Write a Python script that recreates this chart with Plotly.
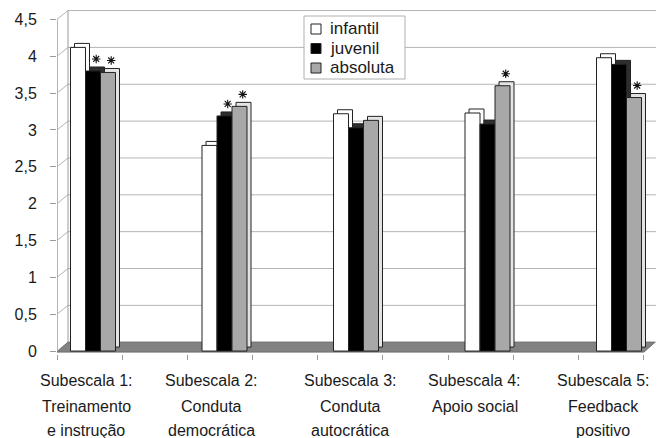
import plotly.graph_objects as go

# ---------------- data ----------------
label_lines = [
    ["Subescala 1:", "Treinamento", "e instrução"],
    ["Subescala 2:", "Conduta", "democrática"],
    ["Subescala 3:", "Conduta", "autocrática"],
    ["Subescala 4:", "Apoio social"],
    ["Subescala 5:", "Feedback", "positivo"],
]
series_names = ["infantil", "juvenil", "absoluta"]
infantil = [4.12, 2.79, 3.22, 3.23, 3.98]
juvenil = [3.80, 3.19, 3.03, 3.08, 3.89]
absoluta = [3.78, 3.32, 3.13, 3.60, 3.44]
sig_juvenil = [1, 1, 0, 0, 0]
sig_absoluta = [1, 1, 0, 1, 1]
y_ticks = [0, 0.5, 1, 1.5, 2, 2.5, 3, 3.5, 4, 4.5]
y_tick_text = ["0", "0,5", "1", "1,5", "2", "2,5", "3", "3,5", "4", "4,5"]

# ---------------- geometry / style ----------------
W, H = 659, 438
ML, MR, MT, MB = 57, 3, 10, 84
PW = W - ML - MR
PH = H - MT - MB
PXX = 131.5           # px per category
X_MIN = -36 / PXX
X_MAX = X_MIN + PW / PXX
Y_MIN = -0.04
PXY = 73.7
Y_MAX = Y_MIN + PH / PXY

BW = 15 / PXX          # bar width
DX = 4 / PXX           # depth shift
DY = 4 / PXY
WALL_DX = 11 / PXX     # back wall shift
WALL_DY = 0.12

front_colors = ["#ffffff", "#000000", "#a8a8a8"]
depth_colors = ["#ffffff", "#2e2e2e", "#e4e4e4"]
edge = "#222222"
font_fam = "Liberation Sans, Arial, sans-serif"


def px_x(p):
    return (p - ML) / PW


def px_y(p):
    return (H - MB - p) / PH


xs = list(range(len(label_lines)))
series = [infantil, juvenil, absoluta]

fig = go.Figure()

for i, (name, vals) in enumerate(zip(series_names, series)):
    off = -1.5 * BW + i * BW
    # depth (top + side faces)
    fig.add_trace(go.Bar(
        x=xs, y=vals, base=[DY] * len(vals), width=BW, offset=off + DX,
        marker=dict(color=depth_colors[i], line=dict(color=edge, width=1)),
        showlegend=False, hoverinfo="skip"))
    # front face
    fig.add_trace(go.Bar(
        x=xs, y=vals, width=BW, offset=off, name=name,
        marker=dict(color=front_colors[i], line=dict(color=edge, width=1)),
        showlegend=False, hoverinfo="skip"))

# significance asterisks
for i, (vals, sig) in enumerate([(juvenil, sig_juvenil), (absoluta, sig_absoluta)], start=1):
    off = -1.5 * BW + i * BW + BW / 2 + DX * 0.8
    sx = [x + off for x, s in zip(xs, sig) if s]
    sy = [v + 12 / PXY for v, s in zip(vals, sig) if s]
    fig.add_trace(go.Scatter(
        x=sx, y=sy, mode="markers", showlegend=False, hoverinfo="skip",
        marker=dict(symbol="asterisk-open", size=7, color="#111111",
                    line=dict(color="#111111", width=1.1))))

shapes = []
wall_left = X_MIN + WALL_DX
# back wall gridlines
for v in y_ticks:
    shapes.append(dict(type="line", xref="x", yref="y", layer="below",
                       x0=wall_left, x1=X_MAX, y0=v + WALL_DY, y1=v + WALL_DY,
                       line=dict(color="#b4b4b4", width=1)))
    # connector from front tick to back wall
    shapes.append(dict(type="line", xref="x", yref="y", layer="below",
                       x0=X_MIN, x1=wall_left, y0=v, y1=v + WALL_DY,
                       line=dict(color="#b4b4b4", width=1)))
# back wall left edge
shapes.append(dict(type="line", xref="x", yref="y", layer="below",
                   x0=wall_left, x1=wall_left, y0=WALL_DY, y1=y_ticks[-1] + WALL_DY,
                   line=dict(color="#9a9a9a", width=1)))
# front y axis line
shapes.append(dict(type="line", xref="x", yref="y", layer="below",
                   x0=X_MIN + 0.5 / PXX, x1=X_MIN + 0.5 / PXX, y0=-0.014, y1=y_ticks[-1],
                   line=dict(color="#b4b4b4", width=1)))
# floor
fx0, fx1 = X_MIN, (644 - 93) / PXX
fy0 = -0.014
shapes.append(dict(type="path", xref="x", yref="y", layer="below",
                   path=f"M {fx0},{fy0} L {fx1},{fy0} L {fx1 + WALL_DX},{WALL_DY} L {fx0 + WALL_DX},{WALL_DY} Z",
                   fillcolor="#828282", line=dict(color="#6e6e6e", width=1)))

annotations = []

# legend (box, swatches, labels)
shapes.append(dict(type="rect", xref="paper", yref="paper", layer="above",
                   x0=px_x(304), x1=px_x(405), y0=px_y(79), y1=px_y(16),
                   fillcolor="white", line=dict(color="#b0b0b0", width=1)))
for k, name in enumerate(series_names):
    cy = 29 + k * 19.5
    shapes.append(dict(type="rect", xref="paper", yref="paper", layer="above",
                       x0=px_x(311), x1=px_x(321), y0=px_y(cy + 5), y1=px_y(cy - 5),
                       fillcolor=front_colors[k], line=dict(color=edge, width=1)))
    annotations.append(dict(x=px_x(328), y=px_y(cy), xref="paper", yref="paper",
                            text=name, showarrow=False, xanchor="left", yanchor="middle",
                            font=dict(family=font_fam, size=17, color="#1a1a1a")))

# category labels
line_shift = [-26, -52, -76]
label_xshift = [-7, -13, -6, -13, -16]
for x, lines, xsft in zip(xs, label_lines, label_xshift):
    for j, t in enumerate(lines):
        annotations.append(dict(
            x=x, y=0, xref="x", yref="paper", text=t, showarrow=False,
            xanchor="center", yanchor="middle", xshift=xsft, yshift=line_shift[j],
            font=dict(family=font_fam, size=16, color="#1a1a1a")))

x_tick_pos = [X_MIN + 0.4958 * k for k in range(10)]

fig.update_layout(
    width=W, height=H,
    margin=dict(l=ML, r=MR, t=MT, b=MB, pad=0, autoexpand=False),
    paper_bgcolor="white", plot_bgcolor="white",
    barmode="overlay", showlegend=False,
    shapes=shapes, annotations=annotations,
    font=dict(family=font_fam, size=16, color="#1a1a1a"),
    xaxis=dict(range=[X_MIN, X_MAX], showgrid=False, zeroline=False, showline=False,
               automargin=False,
               tickmode="array", tickvals=x_tick_pos, showticklabels=False,
               ticks="outside", ticklen=5, tickcolor="#9a9a9a"),
    yaxis=dict(range=[Y_MIN, Y_MAX], showgrid=False, zeroline=False, showline=False,
               automargin=False,
               tickmode="array", tickvals=y_ticks, ticktext=y_tick_text,
               ticks="outside", ticklen=6, tickcolor="#9a9a9a", ticklabelstandoff=10,
               tickfont=dict(family=font_fam, size=16, color="#1a1a1a")),
)

fig.write_html("out.html", config={"displayModeBar": False},
               post_script="document.body.style.margin='0';")
